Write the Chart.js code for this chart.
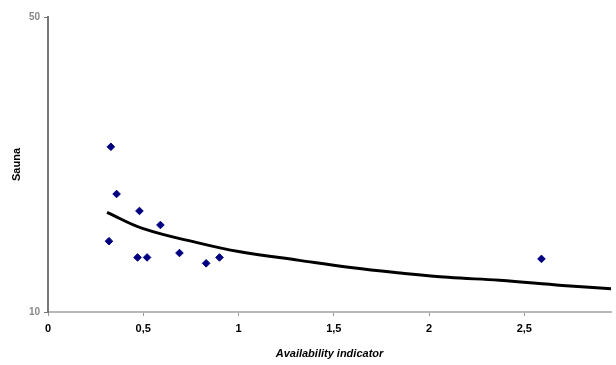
<!DOCTYPE html>
<html>
<head>
<meta charset="utf-8">
<script src="https://cdn.jsdelivr.net/npm/chart.js@4/dist/chart.umd.min.js"></script>
<style>
  html, body { margin: 0; padding: 0; background: #fff; }
  #wrap { width: 616px; height: 365px; }
</style>
</head>
<body>
<div id="wrap"><canvas id="myChart" width="616" height="365"></canvas></div>
<script>
// observed points
var availX = [0.33, 0.36, 0.48, 0.59, 0.32, 0.47, 0.52, 0.69, 0.83, 0.90, 2.59];
var saunaY = [32.4, 26.0, 23.7, 21.8, 19.6, 17.4, 17.4, 18.0, 16.6, 17.4, 17.2];
// trend line
var trendX = [0.31, 0.5, 0.8, 1.0, 1.32, 1.6, 1.85, 2.1, 2.37, 2.7, 2.98];
var trendY = [23.5, 21.3, 19.3, 18.2, 17.0, 16.0, 15.3, 14.7, 14.3, 13.6, 13.1];
var xTicks = [0, 0.5, 1, 1.5, 2, 2.5];
var yTicks = [10, 50];

function pairs(xs, ys){
    var out = [];
    for (var i = 0; i < xs.length; i++) out.push({x: xs[i], y: ys[i]});
    return out;
}

var ctx = document.getElementById('myChart').getContext('2d');
var data = {
    datasets: [{
        label: 'Sauna',
        type: 'scatter',
        data: pairs(availX, saunaY),
        pointStyle: 'rectRot',
        pointRadius: 3.8,
        backgroundColor: '#000080',
        borderColor: '#000080',
        borderWidth: 1
    },
    {
        label: 'Trend',
        type: 'line',
        data: pairs(trendX, trendY),
        borderColor: '#000',
        borderWidth: 3,
        pointRadius: 0,
        tension: 0.4,
        fill: false
    }]
};
var options = {
    responsive: false,
    animation: false,
    layout: {padding: {top: 17, right: 0, left: 10, bottom: 0}},
    plugins: {legend: {display: false}, tooltip: {enabled: false}},
    scales: {
        x: {
            type: 'linear',
            min: 0, max: 2.955,
            afterBuildTicks: function(s){ s.ticks = xTicks.map(function(v){ return {value: v}; }); },
            ticks: {
                color: '#000',
                font: {family: 'Arial, Liberation Sans', size: 11, weight: 'bold'},
                padding: 6,
                callback: function(v){ return String(v).replace('.', ','); }
            },
            grid: {display: true, drawOnChartArea: false, tickLength: 4, color: '#999'},
            border: {display: true, color: '#b8b8b8', width: 2},
            title: {
                display: true,
                text: 'Availability indicator',
                color: '#000',
                font: {family: 'Arial, Liberation Sans', size: 11, weight: 'bold', style: 'italic'},
                padding: {top: 4, bottom: 4}
            },
            afterFit: function(s){ s.height = 53; }
        },
        y: {
            type: 'linear',
            min: 10, max: 50,
            afterBuildTicks: function(s){ s.ticks = yTicks.map(function(v){ return {value: v}; }); },
            ticks: {
                color: '#888',
                font: {family: 'Arial, Liberation Sans', size: 10, weight: 'bold'},
                padding: 4
            },
            grid: {display: true, drawOnChartArea: false, tickLength: 4, color: '#777'},
            border: {display: true, color: '#777', width: 2},
            title: {
                display: true,
                text: 'Sauna',
                color: '#000',
                font: {family: 'Arial, Liberation Sans', size: 11, weight: 'bold'},
                padding: {top: 0, bottom: 4}
            },
            afterFit: function(s){ s.width = 38; }
        }
    }
};
var chart = new Chart(ctx, {type: 'scatter', data: data, options: options});
</script>
</body>
</html>
